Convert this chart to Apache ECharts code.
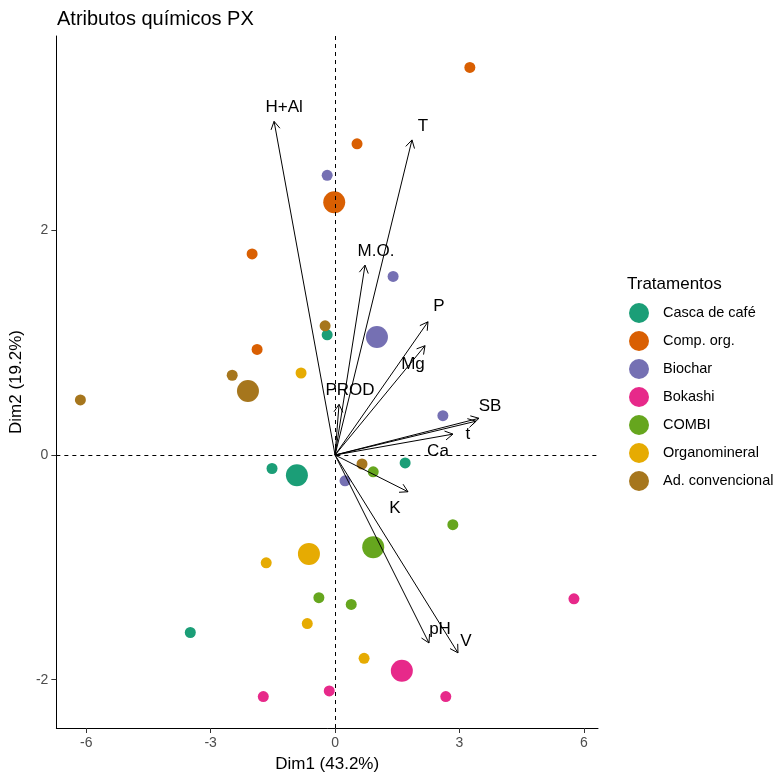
<!DOCTYPE html>
<html>
<head>
<meta charset="utf-8">
<script src="https://cdn.jsdelivr.net/npm/echarts@6/dist/echarts.min.js"></script>
<style>html,body{margin:0;padding:0;background:#fff}#c{width:775px;height:778px}</style>
</head>
<body>
<div id="c"></div>
<script>
// ---------- DATA ----------
const treatments = ['Casca de café','Comp. org.','Biochar','Bokashi','COMBI','Organomineral','Ad. convencional'];
// individual observations per treatment (Dim1, Dim2)
const obsX = [
  [-0.19, -1.52, 1.69, -3.49],
  [3.25, 0.53, -2.00, -1.88],
  [-0.19, 1.40, 2.60, 0.24],
  [5.76, -1.73, -0.14, 2.67],
  [0.92, 2.84, -0.39, 0.39],
  [-0.82, -1.66, -0.67, 0.70],
  [-6.14, -2.48, -0.24, 0.65]
];
const obsY = [
  [1.07, -0.12, -0.07, -1.58],
  [3.45, 2.77, 1.79, 0.94],
  [2.49, 1.59, 0.35, -0.23],
  [-1.28, -2.15, -2.10, -2.15],
  [-0.15, -0.62, -1.27, -1.33],
  [0.73, -0.96, -1.50, -1.81],
  [0.49, 0.71, 1.15, -0.08]
];
// group means
const meanX = [-0.92, -0.02, 1.01, 1.61, 0.92, -0.63, -2.10];
const meanY = [-0.18, 2.25, 1.05, -1.92, -0.82, -0.88, 0.57];
// variable arrows
const varNames = ['H+Al','T','M.O.','P','Mg','PROD','SB','t','Ca','K','pH','V'];
const varX = [-1.47, 1.855, 0.723, 2.241, 2.169, 0.096, 3.470, 3.398, 2.843, 1.759, 2.265, 2.964];
const varY = [2.97, 2.805, 1.690, 1.186, 0.973, 0.451, 0.327, 0.301, 0.186, -0.327, -1.673, -1.761];
// tick labels
const xTicks = [-6, -3, 0, 3, 6];
const yTicks = [-2, 0, 2];

// ---------- STYLE ----------
const colors = ['#1B9E77','#D95F02','#7570B3','#E7298A','#66A61E','#E6AB02','#A6761D'];
const labelDX = [10, 11, 11, 11, -12, 11, 11, -8, -15, -13, 11, 8];
const labelDY = [-14, -14, -14, -15, 19, -14, -12, 13, 17, 17, -14, -12];
const FONT = '"Liberation Sans", Arial, sans-serif';

const chart = echarts.init(document.getElementById('c'), null, {renderer: 'canvas'});

const scatterSeries = treatments.map((name, i) => {
  const data = obsX[i].map((x, j) => ({value: [x, obsY[i][j]], symbolSize: 11}));
  data.push({value: [meanX[i], meanY[i]], symbolSize: 22});
  return {
    name: name,
    type: 'scatter',
    data: data,
    itemStyle: {color: colors[i], opacity: 1},
    emphasis: {disabled: true},
    z: 3
  };
});

const arrowData = varNames.map((n, i) => [varX[i], varY[i], i]);

const arrowSeries = {
  type: 'custom',
  name: 'vars',
  coordinateSystem: 'cartesian2d',
  data: arrowData,
  z: 5,
  silent: true,
  renderItem: function (params, api) {
    const o = api.coord([0, 0]);
    const t = api.coord([api.value(0), api.value(1)]);
    const i = api.value(2);
    const dx = t[0] - o[0], dy = t[1] - o[1];
    const len = Math.sqrt(dx * dx + dy * dy);
    const ux = dx / len, uy = dy / len;
    const L = 9, a = Math.PI / 6;
    const c = Math.cos(a), s = Math.sin(a);
    const w1 = [t[0] - L * (ux * c - uy * s), t[1] - L * (ux * s + uy * c)];
    const w2 = [t[0] - L * (ux * c + uy * s), t[1] - L * (-ux * s + uy * c)];
    return {
      type: 'group',
      children: [
        {type: 'line', shape: {x1: o[0], y1: o[1], x2: t[0], y2: t[1]}, style: {stroke: '#000', lineWidth: 1}},
        {type: 'polyline', shape: {points: [w1, t, w2]}, style: {stroke: '#000', lineWidth: 1, fill: null}},
        {type: 'text', style: {text: varNames[i], x: t[0] + labelDX[i], y: t[1] + labelDY[i],
          fill: '#000', font: '17px ' + FONT, align: 'center', verticalAlign: 'middle'}}
      ]
    };
  }
};

const refLines = {
  type: 'scatter',
  name: 'ref',
  data: [],
  silent: true,
  z: 2,
  markLine: {
    silent: true,
    symbol: 'none',
    label: {show: false},
    lineStyle: {color: '#000', type: [4, 4], width: 1},
    data: [{xAxis: 0}, {yAxis: 0}],
    animation: false
  }
};

const option = {
  animation: false,
  backgroundColor: '#fff',
  title: {
    text: 'Atributos químicos PX',
    left: 52, top: 4,
    textStyle: {fontFamily: FONT, fontSize: 20, fontWeight: 'normal', color: '#000'}
  },
  grid: {left: 56, right: 177, top: 36, bottom: 45, containLabel: false},
  xAxis: {
    type: 'value', min: -6.72, max: 6.34,
    name: 'Dim1 (43.2%)', nameLocation: 'middle', nameGap: 28,
    nameTextStyle: {fontFamily: FONT, fontSize: 17, color: '#000'},
    axisLine: {show: true, onZero: false, lineStyle: {color: '#000', width: 1}},
    axisTick: {show: true, length: 5, lineStyle: {color: '#333'}, customValues: xTicks},
    axisLabel: {customValues: xTicks, color: '#4D4D4D', fontFamily: FONT, fontSize: 14, margin: 8},
    splitLine: {show: false}
  },
  yAxis: {
    type: 'value', min: -2.43, max: 3.73,
    name: 'Dim2 (19.2%)', nameLocation: 'middle', nameGap: 26, nameRotate: 90,
    nameTextStyle: {fontFamily: FONT, fontSize: 17, color: '#000'},
    axisLine: {show: true, onZero: false, lineStyle: {color: '#000', width: 1}},
    axisTick: {show: true, length: 5, lineStyle: {color: '#333'}, customValues: yTicks},
    axisLabel: {customValues: yTicks, color: '#4D4D4D', fontFamily: FONT, fontSize: 14, margin: 8},
    splitLine: {show: false}
  },
  legend: {
    orient: 'vertical',
    left: 624, top: 298,
    itemWidth: 38, itemHeight: 20, itemGap: 8,
    icon: 'circle',
    data: treatments,
    selectedMode: false,
    textStyle: {fontFamily: FONT, fontSize: 14.5, color: '#000'}
  },
  graphic: [{
    type: 'text', left: 627, top: 276,
    style: {text: 'Tratamentos', font: '17px ' + FONT, fill: '#000'}
  }],
  series: [refLines].concat(scatterSeries).concat([arrowSeries])
};
chart.setOption(option);
</script>
</body>
</html>
